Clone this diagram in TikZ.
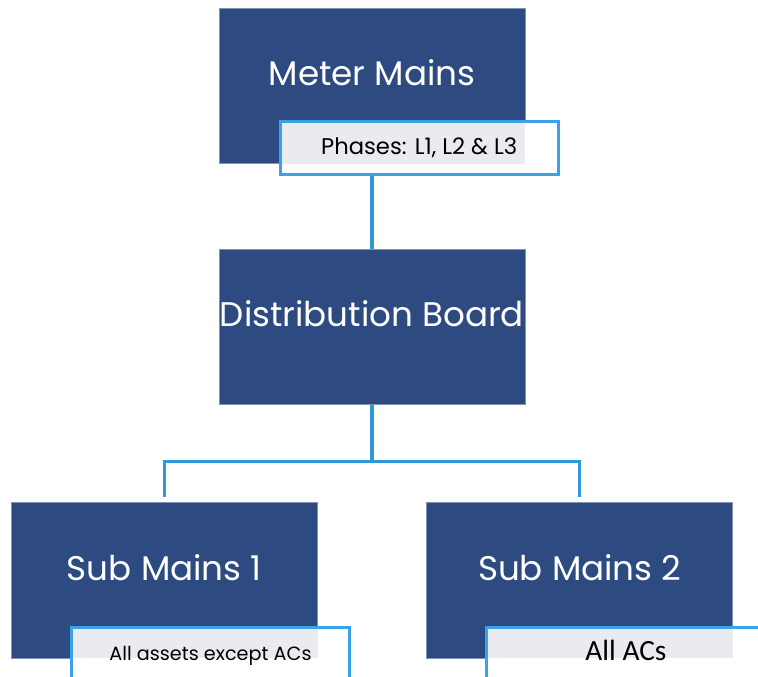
\documentclass[tikz,border=0pt]{standalone}
\usepackage{fontspec}
\usepackage{tikz}
\usetikzlibrary{trees,calc}
\newfontfamily\boxfont{Poppins}
\newfontfamily\acfont{Carlito}
\definecolor{boxblue}{HTML}{2D4B81}
\definecolor{tagblue}{HTML}{39A2E8}
\definecolor{linkblue}{HTML}{2E9ADA}
\definecolor{taggray}{HTML}{E9EBF0}
\tikzset{
    unitbox/.style={fill=boxblue, draw=boxblue!60!white, line width=0.4pt,
        minimum width=229.5pt, minimum height=116.6pt, inner sep=0pt,
        text=white, font=\boxfont\fontsize{25.6}{30}\selectfont,
        text height=20pt, text depth=20pt},
    tagbox/.style={fill=white, draw=tagblue, line width=2.2pt,
        minimum width=208.5pt, minimum height=39.75pt, inner sep=0pt,
        anchor=north west, text=black, font=\boxfont\fontsize{14.4}{17}\selectfont,
        text height=12pt, text depth=1.5pt,
        path picture={\fill[taggray] (path picture bounding box.north west)
            rectangle (#1.south east);}},
    link/.style={draw=linkblue, line width=2.3pt}
}
\begin{document}
\begin{tikzpicture}[x=0.75pt, y=-0.75pt,
        level distance=180.75pt,
        level 2/.style={level distance=190.3pt, sibling distance=311.6pt},
        edge from parent/.style={draw=none}]
    \useasboundingbox (0,0) rectangle (758,677);
    \node[unitbox] (mm) at (372,85.75) {Meter Mains}
        child {node[unitbox] (db) {Distribution Board}
            child {node[unitbox] (sm1) {Sub Mains 1}}
            child {node[unitbox] (sm2) {Sub Mains 2}}
        };
    % tags on the boxes
    \node[tagbox=mm, font=\boxfont\fontsize{17}{20}\selectfont] (mmtag)
        at ($(mm.south west)+(60,-44)$) {Phases: L1, L2 \& L3};
    \node[tagbox=sm1] (sm1tag) at ($(sm1.south west)+(59,-32.5)$) {All assets except ACs};
    \node[tagbox=sm2, font=\acfont\fontsize{22}{26}\selectfont] (sm2tag)
        at ($(sm2.south west)+(59,-32.5)$) {All ACs};
    % connectors
    \coordinate (fork) at ($(db.south)+(0,57)$);
    \draw[link] (db.north |- mmtag.south) -- (db.north);
    \draw[link] (db.south) -- (fork);
    \draw[link] (fork) -| ($(sm1.north)+(0,-5)$);
    \draw[link] (fork) -| ($(sm2.north)+(0,-5)$);
\end{tikzpicture}
\end{document}
